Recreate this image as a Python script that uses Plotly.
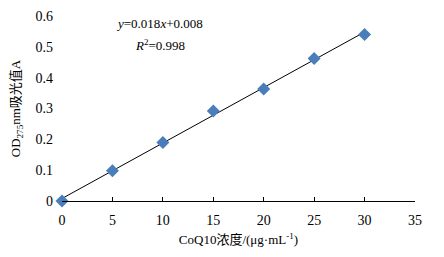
import plotly.graph_objects as go

conc = [0, 5, 10, 15, 20, 25, 30]
absorb = [0.0, 0.098, 0.19, 0.292, 0.363, 0.462, 0.540]
slope = 0.018
intercept = 0.008
x_ticks = [0, 5, 10, 15, 20, 25, 30, 35]
y_ticks = [0, 0.1, 0.2, 0.3, 0.4, 0.5, 0.6]
y_tick_labels = ["0", "0.1", "0.2", "0.3", "0.4", "0.5", "0.6"]

fit_x = [conc[0], conc[-1]]
fit_y = [slope * v + intercept for v in fit_x]

font_serif = "Liberation Serif, Times New Roman, Noto Sans CJK SC, serif"

fig = go.Figure()
fig.add_trace(go.Scatter(x=fit_x, y=fit_y, mode="lines",
                         line=dict(color="black", width=1), showlegend=False))
fig.add_trace(go.Scatter(x=conc, y=absorb, mode="markers",
                         marker=dict(symbol="diamond", size=10, color="#4A7EBB"),
                         showlegend=False, cliponaxis=False))

fig.add_annotation(x=9.7, y=0.577, xref="x", yref="y", text="<i>y</i>=0.018<i>x</i>+0.008",
                   showarrow=False, font=dict(family=font_serif, size=13, color="black"))
fig.add_annotation(x=9.7, y=0.506, xref="x", yref="y", text="<i>R</i><sup>2</sup>=0.998",
                   showarrow=False, font=dict(family=font_serif, size=13, color="black"))

fig.update_layout(
    width=436, height=249,
    margin=dict(l=54, r=29, t=8, b=56),
    paper_bgcolor="white", plot_bgcolor="white",
    font=dict(family=font_serif, size=14, color="black"),
    xaxis=dict(range=[0, 35], tickvals=x_ticks, showgrid=False, zeroline=False,
               showline=True, linecolor="black", linewidth=1, automargin=False,
               ticks="inside", ticklen=4, tickcolor="black",
               tickfont=dict(size=14), ticklabelstandoff=6,
               title=dict(text="CoQ10浓度/(μg·mL<sup>-1</sup>)", standoff=8,
                          font=dict(size=13))),
    yaxis=dict(range=[0, 0.6], tickvals=y_ticks, ticktext=y_tick_labels, showgrid=False,
               zeroline=False, showline=False, ticks="", ticklen=0, automargin=False,
               tickfont=dict(size=14), ticklabelstandoff=8,
               title=dict(text="OD<sub>275</sub>nm吸光值A", standoff=12,
                          font=dict(size=13))),
)

fig.write_html("out.html")
